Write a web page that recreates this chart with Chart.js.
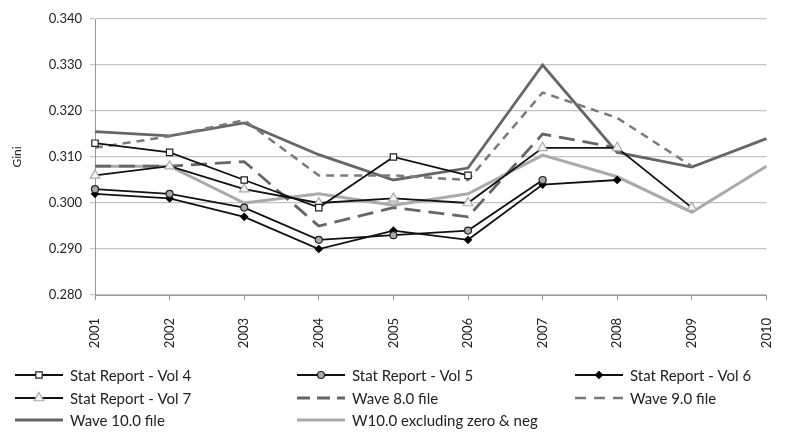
<!DOCTYPE html>
<html>
<head>
<meta charset="utf-8">
<script src="https://cdn.jsdelivr.net/npm/chart.js@4.4.1/dist/chart.umd.min.js"></script>
<style>
  html, body { margin: 0; padding: 0; background: #fff; }
  #wrap { width: 800px; height: 432px; }
</style>
</head>
<body>
<div id="wrap"><canvas id="giniChart" width="800" height="432"></canvas></div>
<script>
const years = ['2001', '2002', '2003', '2004', '2005', '2006', '2007', '2008', '2009', '2010'];
const yTicks = [0.280, 0.290, 0.300, 0.310, 0.320, 0.330, 0.340];

// each volume / wave covers one more year than the previous
const vol4 = [0.313, 0.311, 0.305, 0.299, 0.310, 0.306, null, null, null, null];
const vol5 = [0.303, 0.302, 0.299, 0.292, 0.293, 0.294, 0.305, null, null, null];
const vol6 = [0.302, 0.301, 0.297, 0.290, 0.294, 0.292, 0.304, 0.305, null, null];
const vol7 = [0.306, 0.308, 0.303, 0.300, 0.301, 0.300, 0.312, 0.312, 0.299, null];
const wave8 = [0.308, 0.308, 0.309, 0.295, 0.299, 0.297, 0.315, 0.312, null, null];
const wave9 = [0.312, 0.3145, 0.318, 0.306, 0.306, 0.305, 0.324, 0.3185, 0.308, null];
const wave10 = [0.3155, 0.3146, 0.3174, 0.3105, 0.305, 0.3076, 0.330, 0.311, 0.3078, 0.314];
const w10excl = [0.308, 0.308, 0.300, 0.302, 0.2995, 0.302, 0.3104, 0.3057, 0.298, 0.308];

const labels = [
    'Stat Report - Vol 4', 'Stat Report - Vol 5', 'Stat Report - Vol 6',
    'Stat Report - Vol 7', 'Wave 8.0 file', 'Wave 9.0 file',
    'Wave 10.0 file', 'W10.0 excluding zero & neg'
];

const FONT = 'Lato, "Open Sans", sans-serif';

function blackLine(label, data, style, fill, stroke, radius) {
    return {
        label, data,
        borderColor: '#111', borderWidth: 1.8,
        pointStyle: style, pointRadius: radius,
        pointBackgroundColor: fill, pointBorderColor: stroke, pointBorderWidth: 1.2,
        spanGaps: false, tension: 0
    };
}

function grayLine(label, data, color, width, dash) {
    return {
        label, data,
        borderColor: color, borderWidth: width, borderDash: dash,
        pointRadius: 0, tension: 0
    };
}

const datasets = [
    blackLine(labels[0], vol4, 'rect', '#fff', '#222', 4.5),
    blackLine(labels[1], vol5, 'circle', '#aaa', '#222', 3.5),
    blackLine(labels[2], vol6, 'rectRot', '#000', '#000', 3.5),
    blackLine(labels[3], vol7, 'triangle', '#f4f4f4', '#aaa', 5.5),
    grayLine(labels[4], wave8, '#666', 2.8, [16, 8]),
    grayLine(labels[5], wave9, '#7a7a7a', 2.5, [8, 6]),
    grayLine(labels[6], wave10, '#666', 2.8, []),
    grayLine(labels[7], w10excl, '#aaa', 3, [])
];

// legend drawn in three fixed columns like the original
const legendCols = [15, 297, 575];
const legendRows = [375, 398, 420];

const columnLegend = {
    id: 'columnLegend',
    afterDraw(chart) {
        const ctx = chart.ctx;
        ctx.save();
        chart.data.datasets.forEach((ds, i) => {
            const x = legendCols[i % 3];
            const y = legendRows[Math.floor(i / 3)];
            ctx.strokeStyle = ds.borderColor;
            ctx.lineWidth = ds.borderWidth;
            ctx.setLineDash(ds.borderDash && ds.borderDash.length ? [13, 7] : []);
            if (i === 5) ctx.setLineDash([11, 8]);
            ctx.beginPath();
            ctx.moveTo(x, y);
            ctx.lineTo(x + 48, y);
            ctx.stroke();
            ctx.setLineDash([]);
            if (ds.pointRadius) {
                ctx.fillStyle = ds.pointBackgroundColor;
                ctx.strokeStyle = ds.pointBorderColor;
                ctx.lineWidth = ds.pointBorderWidth;
                Chart.helpers.drawPoint(ctx, {
                    pointStyle: ds.pointStyle, radius: ds.pointRadius, borderWidth: ds.pointBorderWidth
                }, x + 24, y);
            }
            ctx.fillStyle = '#222';
            ctx.font = '15px ' + FONT;
            ctx.textBaseline = 'middle';
            ctx.fillText(ds.label, x + 55, y + 1);
        });
        ctx.restore();
    }
};

new Chart(document.getElementById('giniChart').getContext('2d'), {
    type: 'line',
    data: { labels: years, datasets },
    plugins: [columnLegend],
    options: {
        responsive: false,
        animation: false,
        layout: { padding: { left: 0, right: 8, top: 19, bottom: 82 } },
        plugins: { legend: { display: false }, tooltip: { enabled: false } },
        scales: {
            x: {
                offset: false,
                afterFit: s => { s.height = 55; },
                grid: { drawOnChartArea: false, drawTicks: true, tickLength: 5, color: '#999' },
                border: { color: '#999', width: 1 },
                ticks: {
                    minRotation: 90, maxRotation: 90, padding: 18,
                    color: '#222', font: { family: FONT, size: 13 }
                }
            },
            y: {
                min: 0.28, max: 0.34,
                afterFit: s => { s.width = 95; },
                afterBuildTicks: s => { s.ticks = yTicks.map(v => ({ value: v })); },
                grid: { color: '#c4c4c4', lineWidth: 1.2, drawTicks: true, tickLength: 5 },
                border: { color: '#999', width: 1 },
                title: { display: true, text: 'Gini', color: '#222', font: { family: FONT, size: 12 }, padding: { top: 10, bottom: 12 } },
                ticks: {
                    color: '#222', padding: 8, font: { family: FONT, size: 13 },
                    callback: v => v.toFixed(3)
                }
            }
        }
    }
});
</script>
</body>
</html>
